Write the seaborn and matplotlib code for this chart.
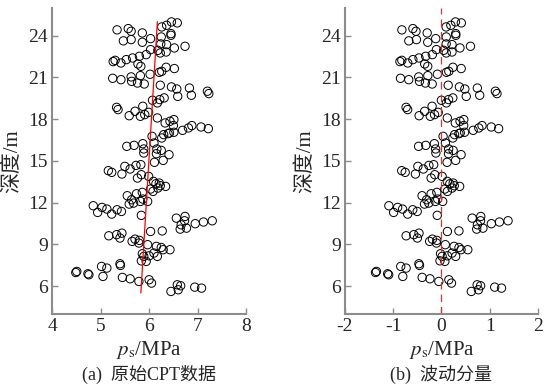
import numpy as np
import matplotlib
matplotlib.use("Agg")
import matplotlib.pyplot as plt
import seaborn as sns

# depth (m) and raw cone resistance ps (MPa)
depth = [24.41, 24.50, 24.31, 24.19, 23.62, 23.71, 23.52, 23.78, 24.62, 24.74,
         24.98, 24.91, 23.90, 24.14, 24.02, 23.40, 23.35, 23.11, 23.23, 22.99,
         22.94, 22.82, 22.75, 22.13, 22.22, 22.03, 22.27, 22.39, 22.51, 22.63,
         21.96, 21.79, 21.72, 21.63, 21.43, 21.36, 21.22, 21.12, 21.03, 20.93,
         20.83, 20.71, 20.59, 20.52, 20.43, 20.31, 20.16, 19.63, 20.23, 19.71,
         20.00, 19.83, 19.35, 19.16, 19.52, 19.40, 18.92, 18.48, 18.84, 18.68,
         18.24, 18.56, 18.20, 18.32, 18.08, 17.72, 17.84, 17.96, 17.53, 17.00,
         17.05, 17.19, 17.36, 17.53, 17.43, 17.31, 16.76, 16.88, 16.95, 16.64,
         16.28, 16.04, 16.11, 16.23, 15.85, 15.56, 15.85, 15.75, 15.51, 15.44,
         14.89, 15.03, 14.29, 14.17, 14.05, 14.60, 14.41, 14.67, 14.72, 13.76,
         14.00, 13.88, 13.52, 13.35, 13.40, 13.21, 13.16, 12.97, 12.80, 13.04,
         12.49, 12.20, 12.63, 12.73, 11.96, 11.89, 12.08, 12.08, 12.25, 11.77,
         11.29, 11.65, 11.53, 11.17, 11.48, 11.36, 11.08, 10.88, 11.00, 10.69,
         10.40, 10.09, 10.16, 10.48, 10.60, 10.69, 9.92, 9.96, 9.61, 9.69,
         9.45, 9.80, 9.21, 9.37, 9.09, 9.28, 8.97, 8.85, 8.77, 8.61,
         8.61, 8.37, 8.13, 8.17, 8.32, 8.13, 7.81, 7.77, 7.05, 6.97,
         6.88, 6.81, 7.41, 7.29, 6.69, 7.60, 7.48, 6.62, 6.52, 6.33,
         6.45, 6.21, 5.61, 6.09, 6.02, 5.73, 5.92, 5.85]

ps = [5.34, 5.57, 5.63, 5.86, 5.47, 5.63, 5.86, 6.03, 6.26, 6.36,
      6.46, 6.58, 6.25, 6.45, 6.45, 6.24, 6.36, 6.52, 6.74, 6.03,
      6.18, 6.35, 6.23, 5.26, 5.30, 5.42, 5.53, 5.66, 5.80, 5.94,
      5.77, 5.83, 6.35, 6.52, 6.26, 6.21, 6.02, 5.82, 5.63, 5.25,
      5.42, 5.64, 5.76, 5.90, 6.23, 6.46, 6.57, 6.59, 6.83, 6.87,
      7.20, 7.23, 6.07, 6.17, 6.31, 6.22, 5.87, 5.99, 5.33, 5.36,
      5.59, 5.71, 5.82, 5.91, 6.17, 6.33, 6.43, 6.51, 6.50, 6.42,
      6.51, 6.69, 6.81, 6.88, 7.07, 7.22, 6.06, 6.30, 6.39, 6.26,
      6.10, 5.54, 5.69, 5.87, 5.89, 5.89, 6.16, 6.25, 6.15, 6.41,
      6.11, 6.29, 5.16, 5.23, 5.44, 5.50, 5.61, 5.73, 5.83, 5.76,
      5.84, 5.99, 6.09, 6.14, 6.21, 6.23, 6.34, 6.03, 6.08, 6.18,
      5.55, 5.64, 5.74, 5.86, 5.68, 5.59, 5.82, 5.97, 5.87, 4.85,
      4.94, 5.03, 5.13, 5.23, 5.34, 5.43, 5.84, 6.56, 6.74, 6.73,
      6.66, 6.64, 6.77, 6.95, 7.12, 7.30, 6.03, 6.27, 5.17, 5.33,
      5.40, 5.44, 5.65, 5.71, 5.79, 5.80, 5.97, 6.15, 6.25, 6.29,
      6.43, 6.10, 6.17, 6.00, 5.86, 5.89, 5.84, 5.94, 4.51, 4.49,
      4.74, 4.76, 5.02, 5.13, 5.05, 5.40, 5.41, 5.45, 5.61, 5.79,
      6.00, 6.05, 6.45, 6.58, 6.65, 6.60, 6.94, 7.08]

# linear trend line drawn in panel (a)
trend_depth = [5.5, 25.0]
trend_ps = [5.83, 6.17]

depth = np.array(depth)
ps = np.array(ps)
# panel (b): fluctuation = raw data minus trend
fluct = ps - np.interp(depth, trend_depth, trend_ps)

sns.set_style("ticks")
plt.rcParams['font.family'] = ['Liberation Serif', 'Noto Sans CJK SC']
plt.rcParams['mathtext.fontset'] = 'stix'
plt.rcParams['axes.unicode_minus'] = False

fig = plt.figure(figsize=(5.44, 3.87), dpi=100)
ax1 = fig.add_axes([0.0956, 0.189, 0.357, 0.791])
ax2 = fig.add_axes([0.634, 0.189, 0.355, 0.791])

grey = '#8c8c8c'
for ax, xs, xlim, xticks, sub in [
        (ax1, ps, (4, 8), [4, 5, 6, 7, 8], "(a)  原始CPT数据"),
        (ax2, fluct, (-2, 2), [-2, -1, 0, 1, 2], "(b)  波动分量")]:
    sns.scatterplot(x=xs, y=depth, ax=ax, marker='o', s=36,
                    facecolor='none', edgecolor='black', linewidth=0.7)
    ax.set_xlim(*xlim)
    ax.set_ylim(4, 26)
    ax.set_xticks(xticks)
    ax.set_yticks([6, 9, 12, 15, 18, 21, 24])
    sns.despine(ax=ax)
    for s in ['left', 'bottom']:
        ax.spines[s].set_color(grey)
        ax.spines[s].set_linewidth(1.5)
    ax.tick_params(direction='in', length=4, width=1, color=grey,
                   labelsize=14, pad=3)
    ax.set_xlabel(r"$p_\mathrm{s}$/MPa", fontsize=15, labelpad=3)
    ax.text(0.5, -0.198, sub, transform=ax.transAxes, ha='center',
            va='center', fontsize=13)
    ax.set_ylabel("深度/m", fontsize=15, labelpad=4)

ax1.plot(trend_ps, trend_depth, color='red', linewidth=0.9)
ax2.axvline(0, color='#e03030', linewidth=0.9, linestyle=(0, (6, 4)))

fig.savefig("out.png", dpi=100)
